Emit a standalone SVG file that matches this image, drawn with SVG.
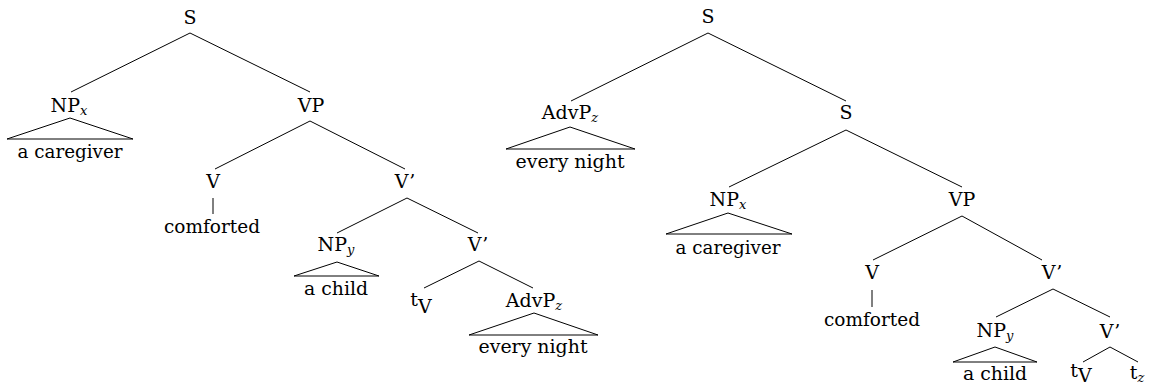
<svg xmlns="http://www.w3.org/2000/svg" width="1151" height="385" viewBox="0 0 1151 385">
<style>
text { font-family: "DejaVu Serif", "Liberation Serif", serif; font-size: 19px; fill: #000; text-anchor: middle; }
.sub { font-style: italic; font-size: 13px; }
.conn line, .conn polygon { stroke: #000; stroke-width: 1; fill: none; }
</style>
<rect width="1151" height="385" fill="#fff"/>
<g id="connectors" class="conn">
  <line x1="190" y1="33" x2="71" y2="92"/>
  <line x1="190" y1="33" x2="310" y2="92"/>
  <line x1="310" y1="121" x2="215" y2="169"/>
  <line x1="310" y1="121" x2="405" y2="169"/>
  <line x1="213" y1="198" x2="213" y2="214"/>
  <line x1="407" y1="198" x2="337" y2="233"/>
  <line x1="407" y1="198" x2="478" y2="233"/>
  <line x1="479" y1="261" x2="424" y2="288"/>
  <line x1="479" y1="261" x2="533" y2="288"/>
  <polygon points="70,118 7,139 133,139"/>
  <polygon points="337,262 294,276 379,276"/>
  <polygon points="534,313 469,335 598,335"/>
  <line x1="708" y1="33" x2="571" y2="101"/>
  <line x1="708" y1="33" x2="846" y2="101"/>
  <line x1="846" y1="130" x2="729" y2="187"/>
  <line x1="846" y1="130" x2="962" y2="187"/>
  <line x1="962" y1="216" x2="873" y2="260"/>
  <line x1="962" y1="216" x2="1042" y2="260"/>
  <line x1="872" y1="290" x2="872" y2="307"/>
  <line x1="1053" y1="289" x2="996" y2="317"/>
  <line x1="1053" y1="289" x2="1110" y2="317"/>
  <line x1="1110" y1="347" x2="1083" y2="362"/>
  <line x1="1110" y1="347" x2="1138" y2="362"/>
  <polygon points="570,127 506,149 635,149"/>
  <polygon points="728,213 666,234 792,234"/>
  <polygon points="995,347 953,362 1037,362"/>
</g>
<g id="left-tree">
  <g id="l-S"><text x="190" y="24">S</text></g>
  <g id="l-NPx"><text x="69" y="112">NP<tspan class="sub" dy="3">x</tspan></text></g>
  <g id="l-caregiver"><text x="70" y="158" textLength="105" lengthAdjust="spacingAndGlyphs">a caregiver</text></g>
  <g id="l-VP"><text x="311" y="112">VP</text></g>
  <g id="l-V"><text x="213" y="188">V</text></g>
  <g id="l-comforted"><text x="212" y="233" textLength="96" lengthAdjust="spacingAndGlyphs">comforted</text></g>
  <g id="l-Vbar1"><text x="405" y="188">V’</text></g>
  <g id="l-NPy"><text x="336" y="251">NP<tspan class="sub" dy="3">y</tspan></text></g>
  <g id="l-child"><text x="336" y="295" textLength="64" lengthAdjust="spacingAndGlyphs">a child</text></g>
  <g id="l-Vbar2"><text x="478" y="251">V’</text></g>
  <g id="l-tV"><text x="421" y="306">t<tspan dy="7">V</tspan></text></g>
  <g id="l-AdvPz"><text x="534" y="307">AdvP<tspan class="sub" dy="3">z</tspan></text></g>
  <g id="l-everynight"><text x="533" y="353" textLength="109" lengthAdjust="spacingAndGlyphs">every night</text></g>
</g>
<g id="right-tree">
  <g id="r-S1"><text x="708" y="23">S</text></g>
  <g id="r-AdvPz"><text x="570" y="119">AdvP<tspan class="sub" dy="3">z</tspan></text></g>
  <g id="r-everynight"><text x="570" y="168" textLength="109" lengthAdjust="spacingAndGlyphs">every night</text></g>
  <g id="r-S2"><text x="846" y="119">S</text></g>
  <g id="r-NPx"><text x="728" y="206">NP<tspan class="sub" dy="3">x</tspan></text></g>
  <g id="r-caregiver"><text x="728" y="254" textLength="105" lengthAdjust="spacingAndGlyphs">a caregiver</text></g>
  <g id="r-VP"><text x="962" y="206">VP</text></g>
  <g id="r-V"><text x="872" y="279">V</text></g>
  <g id="r-comforted"><text x="872" y="326" textLength="96" lengthAdjust="spacingAndGlyphs">comforted</text></g>
  <g id="r-Vbar1"><text x="1052" y="279">V’</text></g>
  <g id="r-NPy"><text x="995" y="337">NP<tspan class="sub" dy="3">y</tspan></text></g>
  <g id="r-child"><text x="995" y="380" textLength="64" lengthAdjust="spacingAndGlyphs">a child</text></g>
  <g id="r-Vbar2"><text x="1110" y="338">V’</text></g>
  <g id="r-tV"><text x="1081" y="377">t<tspan dy="5">V</tspan></text></g>
  <g id="r-tz"><text x="1137" y="379">t<tspan class="sub" dy="3">z</tspan></text></g>
</g>
</svg>
